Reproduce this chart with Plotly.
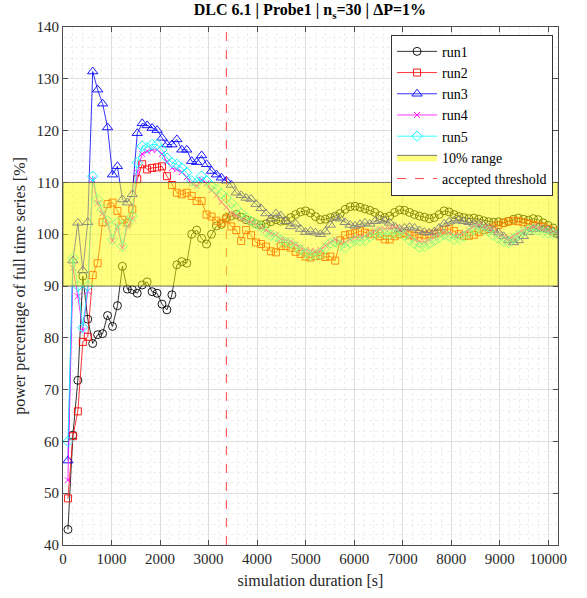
import plotly.graph_objects as go

# simulation durations [s]
duration = list(range(102, 10201, 102))

run1 = [43.0, 61.2, 71.8, 91.9, 83.6, 78.9, 80.6, 80.8, 84.3, 82.2,
        86.2, 93.8, 89.4, 89.3, 88.6, 90.2, 90.8, 88.9, 88.6, 86.5,
        85.4, 88.3, 94.1, 94.7, 94.4, 100.0, 100.8, 99.2, 98.1, 100.0,
        101.6, 101.9, 103.2, 103.5, 103.8, 103.3, 102.8, 102.5, 102.0, 101.8,
        102.0, 102.4, 102.8, 102.5, 102.6, 103.2, 103.8, 104.3, 104.5, 104.1,
        103.4, 102.8, 102.9, 103.2, 103.5, 104.0, 104.8, 105.3, 105.4, 105.2,
        104.9, 104.6, 104.2, 103.6, 103.2, 103.5, 104.2, 104.7, 104.6, 104.2,
        103.8, 103.5, 103.3, 103.0, 103.2, 103.8, 104.5, 104.3, 103.8, 103.4,
        103.2, 103.0, 103.1, 102.9, 102.6, 102.4, 102.3, 102.4, 102.2, 102.5,
        102.9, 103.1, 102.9, 102.7, 103.0, 102.8, 102.2, 101.7, 101.2, 100.0]

run2 = [49.0, 61.0, 65.8, 79.2, 80.2, 92.1, 94.4, 102.3, 105.8, 106.1,
        104.5, 102.8, 102.2, 104.8, 110.6, 113.5, 112.5, 112.8, 112.9, 113.1,
        111.2, 109.5, 108.0, 107.7, 108.0, 107.4, 106.4, 106.4, 103.8, 103.4,
        102.6, 102.2, 102.9, 101.5, 100.8, 98.7, 100.8, 99.8, 98.4, 98.1,
        97.6, 96.7, 96.5, 97.7, 97.7, 97.4, 96.6, 96.2, 95.7, 95.5,
        95.8, 95.9, 95.6, 95.7, 94.9, 98.8, 99.8, 100.0, 100.2, 100.6,
        100.3, 100.1, 100.0, 99.6, 99.0, 99.0, 99.6, 100.0, 100.2, 99.8,
        99.7, 100.0, 99.8, 100.0, 100.1, 100.3, 100.8, 101.0, 100.6, 100.0,
        99.7, 99.7, 99.9, 100.4, 100.8, 101.0, 101.3, 101.8, 102.2, 102.5,
        102.6, 102.5, 102.3, 102.0, 101.8, 101.6, 101.4, 101.0, 100.6, 100.0]

run3 = [56.3, 94.9, 102.2, 93.0, 102.3, 131.4, 127.9, 125.2, 120.6, 111.5,
        113.1, 106.7, 106.1, 107.7, 119.5, 121.4, 121.0, 120.5, 120.1, 118.6,
        117.3, 117.3, 118.3, 116.3, 116.3, 114.1, 113.9, 115.2, 113.5, 112.2,
        111.5, 110.9, 110.3, 109.5, 108.0, 107.5, 107.0, 106.8, 105.8, 105.0,
        104.0, 103.0, 104.0, 103.6, 102.5, 101.5, 102.0, 101.0, 100.4, 100.6,
        100.3, 100.0, 100.5, 101.8, 103.2, 103.0, 102.3, 101.8, 101.6, 101.9,
        102.2, 102.0, 102.5, 102.8, 102.6, 102.2, 101.5, 101.0, 101.2, 101.4,
        101.2, 100.7, 100.4, 100.3, 100.5, 101.2, 102.0, 102.4, 102.6, 102.8,
        102.5, 102.3, 102.0, 101.9, 101.7, 101.2, 100.8, 100.3, 99.6, 98.8,
        98.4, 98.8, 99.6, 100.4, 101.0, 101.3, 101.0, 100.8, 100.6, 100.0]

run4 = [52.5, 93.5, 88.0, 81.4, 89.0, 110.5, 106.0, 104.0, 102.0, 98.7,
        101.5, 97.4, 101.5, 103.0, 112.0, 115.5, 116.0, 116.3, 116.3, 115.5,
        114.0, 112.8, 112.5, 112.0, 111.0, 109.8, 109.3, 110.5, 109.8, 108.5,
        107.5, 106.2, 105.2, 104.0, 103.6, 103.0, 102.6, 102.4, 101.9, 101.3,
        100.8, 100.2, 99.9, 99.0, 98.8, 98.6, 98.0, 97.4, 97.0, 96.8,
        96.7, 97.0, 97.8, 98.4, 99.0, 98.5, 98.4, 99.0, 99.4, 99.5,
        99.6, 100.2, 100.7, 101.0, 101.0, 101.1, 101.3, 101.2, 100.5, 99.6,
        99.0, 98.6, 98.5, 98.9, 99.4, 99.9, 100.5, 100.3, 99.8, 99.9,
        100.3, 100.8, 101.5, 101.9, 101.5, 101.2, 100.6, 100.0, 99.4, 99.0,
        99.6, 100.2, 100.8, 101.1, 101.4, 101.2, 100.8, 100.5, 100.3, 100.0]

run5 = [60.0, 95.4, 90.0, 82.0, 90.0, 111.2, 106.7, 104.8, 102.6, 99.0,
        102.2, 97.7, 102.2, 103.5, 113.8, 117.0, 116.7, 117.3, 117.3, 116.3,
        114.7, 113.8, 113.5, 112.8, 111.9, 110.3, 109.9, 111.2, 110.3, 109.3,
        108.7, 107.8, 107.0, 106.0, 105.0, 104.0, 103.2, 102.5, 102.0, 101.5,
        100.4, 99.8, 99.5, 98.9, 98.4, 98.4, 97.5, 97.0, 96.4, 95.9,
        96.0, 96.2, 97.3, 98.3, 98.5, 97.8, 97.4, 98.3, 98.8, 98.7,
        98.8, 99.5, 100.0, 100.3, 100.1, 100.0, 100.2, 100.4, 99.8, 98.9,
        98.2, 97.5, 97.6, 98.2, 98.8, 99.3, 99.9, 99.6, 99.0, 99.2,
        99.6, 100.2, 100.9, 101.2, 100.9, 100.6, 99.8, 99.2, 98.6, 98.4,
        99.2, 99.8, 100.5, 100.8, 101.0, 100.8, 100.4, 100.2, 100.1, 100.0]

run_names = ["run1", "run2", "run3", "run4", "run5"]
threshold = 3366
band_low, band_high = 90, 110
x_max = 10200
y_min, y_max = 40, 140

FONT = "Liberation Serif"
colors = ["#000000", "#FF0000", "#0000FF", "#FF00FF", "#00FFFF"]
symbols = ["circle-open", "square-open", "triangle-up-open", "x-thin-open", "diamond-open"]
sizes = [8, 7, 9, 6, 8]

fig = go.Figure()
for name, vals, c, s, sz in zip(run_names, [run1, run2, run3, run4, run5], colors, symbols, sizes):
    fig.add_trace(go.Scatter(
        x=duration, y=vals, mode="lines+markers", name=name,
        line=dict(color=c, width=0.8),
        marker=dict(symbol=s, size=sz, color=c, line=dict(color=c, width=0.9)),
        zorder=0,
    ))

fig.add_trace(go.Scatter(
    x=[0, x_max, x_max, 0, 0], y=[band_low, band_low, band_high, band_high, band_low],
    mode="lines", fill="toself", fillcolor="rgba(255,255,0,0.5)",
    line=dict(color="#555555", width=0.8), name="10% range", zorder=1,
))
fig.add_trace(go.Scatter(
    x=[threshold, threshold], y=[y_min, y_max], mode="lines",
    line=dict(color="rgba(255,0,0,0.75)", width=1, dash="dash"),
    name="accepted threshold", zorder=0,
))

axis_common = dict(
    showline=True, linecolor="#4d4d4d", linewidth=1, mirror="allticks",
    ticks="inside", ticklen=5, tickcolor="#4d4d4d",
    showgrid=True, gridcolor="#dedede", gridwidth=1, zeroline=False,
    tickfont=dict(family=FONT, size=15, color="#262626"),
    tickformat="d",
)

fig.update_layout(
    width=587, height=598,
    margin=dict(l=63, r=29, t=27, b=51),
    paper_bgcolor="white", plot_bgcolor="white",
    font=dict(family=FONT, size=15, color="#262626"),
    title=dict(text="<b>DLC 6.1 | Probe1 | n<sub>s</sub>=30 | ΔP=1%</b>",
               x=0.528, xanchor="center", y=0.984, yanchor="middle", yref="container",
               font=dict(family=FONT, size=16, color="black")),
    xaxis=dict(range=[0, x_max], tick0=0, dtick=1000,
               title=dict(text="simulation duration [s]", font=dict(family=FONT, size=16), standoff=8),
               minor=dict(dtick=200, showgrid=True, gridcolor="#eeeeee", griddash="dot"),
               **axis_common),
    yaxis=dict(range=[y_min, y_max], tick0=0, dtick=10,
               title=dict(text="power percentage of full time series [%]", font=dict(family=FONT, size=16), standoff=6),
               minor=dict(dtick=2, showgrid=True, gridcolor="#eeeeee", griddash="dot"),
               **axis_common),
    legend=dict(x=0.99, y=0.985, xanchor="right", yanchor="top",
                bgcolor="white", bordercolor="#333333", borderwidth=1,
                font=dict(family=FONT, size=14, color="black"),
                itemwidth=40, tracegroupgap=0),
    showlegend=True,
)

fig.write_html("out.html")
